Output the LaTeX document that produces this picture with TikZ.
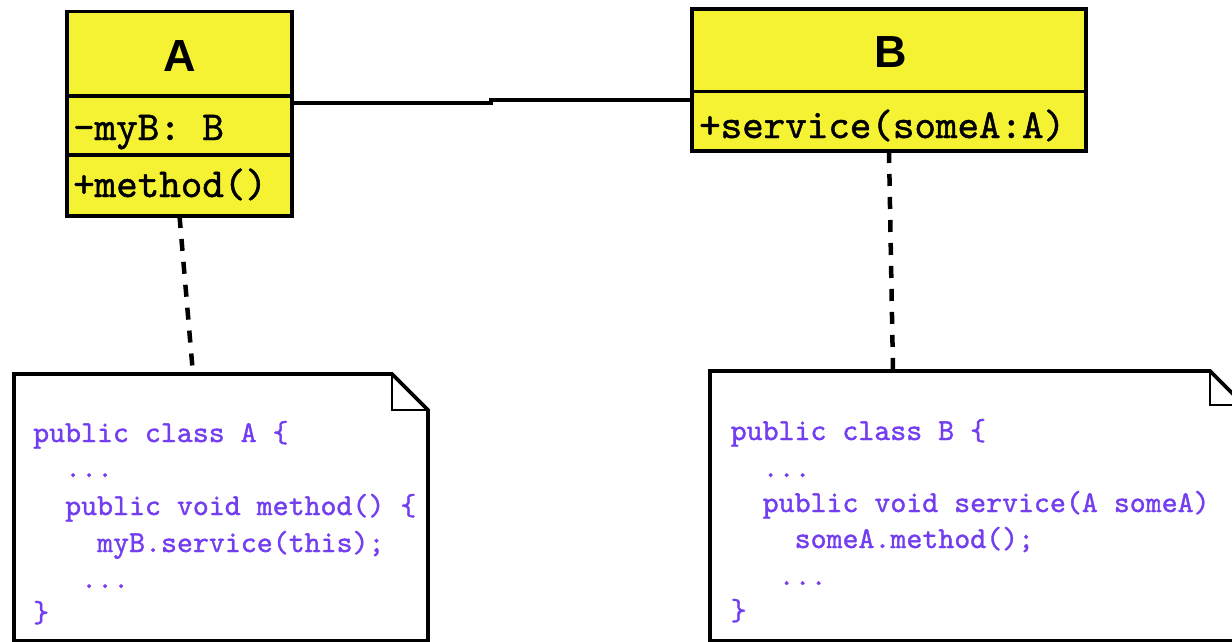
\documentclass[tikz,border=0pt]{standalone}
\usepackage{fontspec}
\usetikzlibrary{calc}
\newfontfamily\codefont{lmmono10-regular.otf}[FakeBold=1.2]
\newfontfamily\headfont{Liberation Sans}
\definecolor{umlyellow}{RGB}{245,242,52}
\definecolor{codeblue}{RGB}{115,62,240}
\tikzset{
  compartment/.style={draw=black, fill=umlyellow, line width=3.6pt,
    inner sep=0pt, outer sep=0pt, anchor=north west},
  classname/.style={font=\headfont\bfseries\fontsize{45}{45}\selectfont,
    inner sep=0pt, anchor=base},
  member/.style={font=\codefont\fontsize{41}{41}\selectfont,
    inner sep=0pt, anchor=base west},
  codeline/.style={font=\codefont\fontsize{30.4}{30.4}\selectfont,
    text=codeblue, inner sep=0pt, anchor=base west},
  notearea/.style={inner sep=0pt, outer sep=0pt, anchor=north west},
  noteedge/.style={draw=black, fill=white, line width=3.6pt, line join=miter},
  notefold/.style={draw=black, line width=2.8pt},
  assoc/.style={draw=black, line width=3.6pt},
  anchorline/.style={draw=black, line width=4.5pt, dash pattern=on 12pt off 11pt}
}
\begin{document}
\begin{tikzpicture}[x=1pt, y=-1pt]
\useasboundingbox (0,0) rectangle (1232,642);
\clip (0,0) rectangle (1232,642);
\fill[white] (0,0) rectangle (1232,642);

% class A
\node[compartment, minimum width=225pt, minimum height=84.5pt] (Atitle) at (67,11.5) {};
\node[compartment, minimum width=225pt, minimum height=59pt] (Aattr) at (67,96) {};
\node[compartment, minimum width=225pt, minimum height=61pt] (Aop) at (67,155) {};
\node[classname] (Aname) at (180,72) {A};
\node[member] (Aattrtext) at (73,140) {-myB: B};
\node[member] (Aoptext) at (73,197) {+method()};

% class B
\node[compartment, minimum width=394pt, minimum height=82.5pt] (Btitle) at (692,9) {};
\node[compartment, minimum width=394pt, minimum height=59.5pt] (Bop) at (692,91.5) {};
\node[classname] (Bname) at (891,68) {B};
\node[member] (Boptext) at (699,138) {+service(someA:A)};

% association between A and B
\coordinate (jog) at (491,0);
\draw[assoc] ($(Aattr.north east)+(0,7)$) -- ($(jog)+(0,103)$)
  -- ($(jog)+(0,100)$) -- ($(Bop.north west)+(0,8.5)$);

% note attached to A
\node[notearea, minimum width=414pt, minimum height=267pt] (noteA) at (14,374) {};
\path[noteedge] (noteA.south west) -- (noteA.north west)
  -- ($(noteA.north east)+(-36,0)$) -- ($(noteA.north east)+(0,36)$)
  -- (noteA.south east) -- cycle;
\draw[notefold] ($(noteA.north east)+(-36,0)$) -- ($(noteA.north east)+(-36,36)$)
  -- ($(noteA.north east)+(0,36)$);
\node[codeline] (codeA1) at (33,442) {public class A \{};
\node[codeline] (codeA2) at (65,477) {...};
\node[codeline] (codeA3) at (65,515) {public void method() \{};
\node[codeline] (codeA4) at (97,552) {myB.service(this);};
\node[codeline] (codeA5) at (81,588) {...};
\node[codeline] (codeA6) at (33,622) {\}};

% note attached to B
\node[notearea, minimum width=536pt, minimum height=270pt] (noteB) at (710,371) {};
\path[noteedge] (noteB.south west) -- (noteB.north west)
  -- ($(noteB.north east)+(-36,0)$) -- ($(noteB.north east)+(0,36)$)
  -- (noteB.south east) -- cycle;
\draw[notefold] ($(noteB.north east)+(-36,0)$) -- ($(noteB.north east)+(-36,34)$)
  -- ($(noteB.north east)+(0,34)$);
\node[codeline] (codeB1) at (730.5,440) {public class B \{};
\node[codeline] (codeB2) at (762.5,477) {...};
\node[codeline] (codeB3) at (762.5,512) {public void service(A someA)};
\node[codeline] (codeB4) at (794.5,548) {someA.method();};
\node[codeline] (codeB5) at (778.5,585) {...};
\node[codeline] (codeB6) at (730.5,620) {\}};

% dashed anchors from classes to notes
\draw[anchorline] (Aop.south) -- ($(noteA.north west)+(179,0)$);
\draw[anchorline] (Bop.south) -- ($(noteB.north west)+(183,0)$);
\end{tikzpicture}
\end{document}
